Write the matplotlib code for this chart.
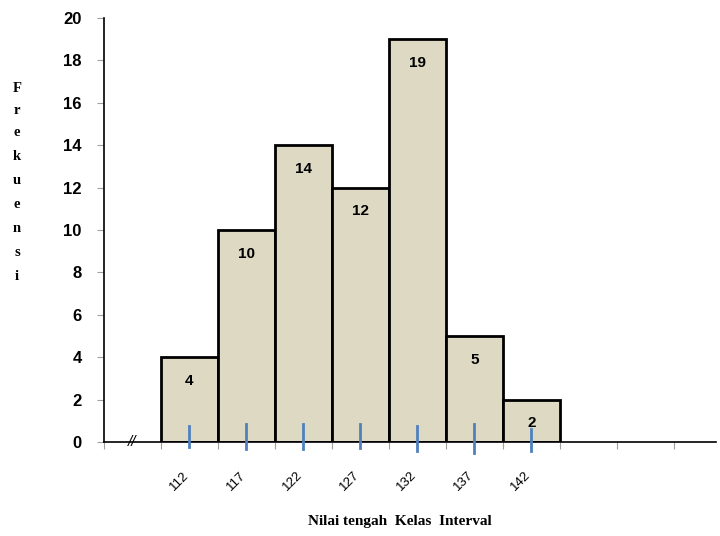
import matplotlib.pyplot as plt

# Data
midpoints = ["112", "117", "122", "127", "132", "137", "142"]
freq = [4, 10, 14, 12, 19, 5, 2]
yticks = [0, 2, 4, 6, 8, 10, 12, 14, 16, 18, 20]

# hand-drawn blue marks under each bar (top, bottom in data units)
mark_top = [0.75, 0.85, 0.85, 0.85, 0.75, 0.85, 0.62]
mark_bot = [-0.24, -0.33, -0.33, -0.28, -0.43, -0.52, -0.43]

fig = plt.figure(figsize=(7.2, 5.36), dpi=100)
ax = fig.add_axes([0.1444, 0.1754, 0.85, 0.791])

# bars sit between category ticks 1..8
x = [i + 1.5 for i in range(len(freq))]
ax.bar(x, freq, width=1.0, color="#DDD9C3", edgecolor="black", linewidth=2, zorder=2)

for xi, f in zip(x, freq):
    ax.annotate(str(f), (xi, f), xytext=(0, -17), textcoords="offset points",
                ha="center", va="center", fontsize=11, fontweight="bold",
                family="Liberation Sans", zorder=4)

for xi, t, b in zip(x, mark_top, mark_bot):
    ax.plot([xi, xi], [b, t], color="#4F81BD", linewidth=2, zorder=3, clip_on=False)

# rotated labels at bar centres
for xi, lab in zip(x, midpoints):
    ax.annotate(lab, (xi, 0), xytext=(-7.5, -28), textcoords="offset points",
                ha="center", va="center", rotation=45, fontsize=9.5,
                family="Liberation Sans")

# axis break mark
ax.text(0.5, 0, "//", ha="center", va="center", fontsize=11, style="italic",
        family="Liberation Sans")

ax.set_xlim(0, 10.737)
ax.set_ylim(0, 20)
ax.set_xticks(range(0, 11))
ax.set_xticklabels([])
ax.set_yticks(yticks)
ax.set_yticklabels([str(v) for v in yticks], fontsize=12, fontweight="bold",
                   family="Liberation Sans")
ax.tick_params(axis="both", color="#A0A0A0", length=5, width=0.8)
ax.tick_params(axis="y", pad=11)

for s in ["top", "right"]:
    ax.spines[s].set_visible(False)
for s in ["left", "bottom"]:
    ax.spines[s].set_linewidth(1.2)

# stacked y label
letters = "Frekuensi"
ys = [88, 110, 133, 157, 181, 205, 229, 253, 276]
for ch, yp in zip(letters, ys):
    fig.text(17 / 720, 1 - yp / 536, ch, ha="center", va="center", fontsize=10.5,
             fontweight="bold", family="Liberation Serif")

fig.text(400 / 720, 1 - 521 / 536, "Nilai tengah  Kelas  Interval", ha="center",
         va="center", fontsize=11, fontweight="bold", family="Liberation Serif")

fig.savefig("out.png", dpi=100)
